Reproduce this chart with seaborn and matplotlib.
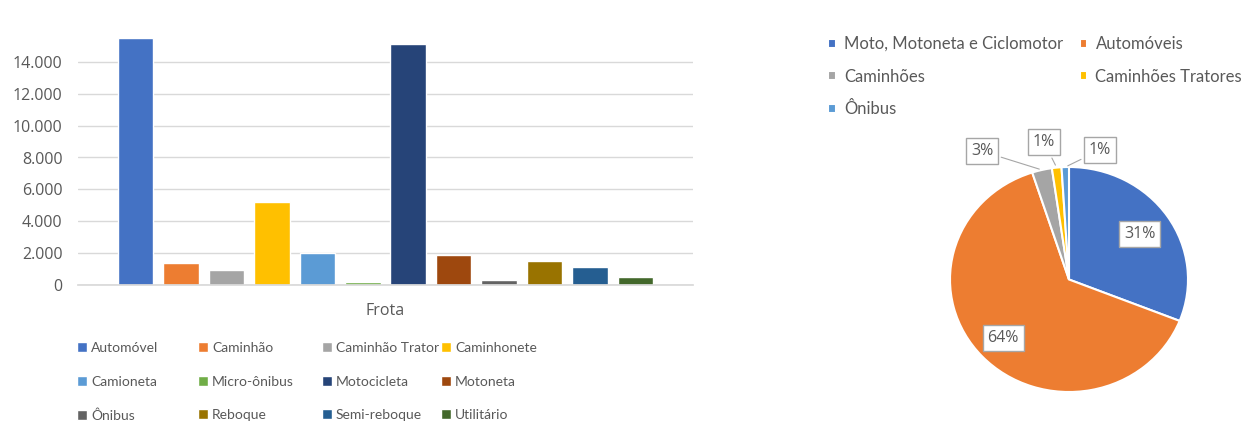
import numpy as np
import pandas as pd
import matplotlib
matplotlib.use("Agg")
import matplotlib.pyplot as plt
import seaborn as sns

# ---- data ----
bar_group = "Frota"
bar_types = ["Automóvel", "Caminhão", "Caminhão Trator", "Caminhonete",
             "Camioneta", "Micro-ônibus", "Motocicleta", "Motoneta",
             "Ônibus", "Reboque", "Semi-reboque", "Utilitário"]
bar_values = [15500, 1400, 940, 5200, 2000, 200, 15150, 1880, 290, 1520, 1150, 480]
bar_colors = ["#4472C4", "#ED7D31", "#A5A5A5", "#FFC000", "#5B9BD5", "#70AD47",
              "#264478", "#9E480E", "#636363", "#997300", "#255E91", "#43682B"]
y_ticks = [0, 2000, 4000, 6000, 8000, 10000, 12000, 14000]

pie_labels = ["Moto, Motoneta e Ciclomotor", "Automóveis", "Caminhões",
              "Caminhões Tratores", "Ônibus"]
pie_values = [31, 64, 2.7, 1.3, 1.0]
pie_texts = ["31%", "64%", "3%", "1%", "1%"]
pie_colors = ["#4472C4", "#ED7D31", "#A5A5A5", "#FFC000", "#5B9BD5"]

sns.set_theme(style="white")
plt.rcParams['font.family'] = ['Open Sans', 'DejaVu Sans']
TXT = "#595959"
LEG_FONT = ['Lato', 'DejaVu Sans']

fig = plt.figure(figsize=(12.44, 4.21), dpi=100)
W, H = 1244, 421

# ---- bar chart ----
ax = fig.add_axes([78 / W, 1 - 285 / H, (693 - 78) / W, (285 - 30) / H])
df = pd.DataFrame({"grupo": [bar_group] * len(bar_types), "tipo": bar_types, "valor": bar_values})
sns.barplot(data=df, x="grupo", y="valor", hue="tipo", hue_order=bar_types,
            palette=bar_colors, width=0.886, gap=0.22, ax=ax, saturation=1)
ax.set_xlim(-0.5, 0.5)
ax.set_ylim(0, 16000)
ax.set_yticks(y_ticks)
ax.set_yticklabels([f"{v:,}".replace(",", ".") for v in y_ticks], color=TXT, fontsize=11.5)
ax.tick_params(axis="x", colors=TXT, labelsize=11.5, length=0, pad=13)
ax.tick_params(axis="y", length=0, pad=11)
ax.set_xlabel("")
ax.set_ylabel("")
ax.grid(axis="y", color="#D9D9D9", linewidth=1)
ax.set_axisbelow(True)
for s in ["top", "right", "left"]:
    ax.spines[s].set_visible(False)
ax.spines["bottom"].set_color("#D9D9D9")
handles, labels = ax.get_legend_handles_labels()
if ax.get_legend() is not None:
    ax.get_legend().remove()

# legend: 3 rows x 4 equal-width columns
col_x = [77, 198, 322, 441]
for c in range(4):
    idx = [c, c + 4, c + 8]
    fig.legend([handles[i] for i in idx], [labels[i] for i in idx], ncol=1,
               loc="upper left", bbox_to_anchor=(col_x[c] / W, 1 - 342 / H), frameon=False,
               prop={"family": LEG_FONT, "size": 10}, labelcolor=TXT,
               handlelength=0.7, handleheight=0.7,
               handletextpad=0.3, labelspacing=1.55,
               borderpad=0, borderaxespad=0)

# ---- pie chart ----
px0, px1, py0, py1 = 950, 1188, 167, 392
pax = fig.add_axes([px0 / W, 1 - py1 / H, (px1 - px0) / W, (py1 - py0) / H])
wedges, _ = pax.pie(pie_values, colors=pie_colors, startangle=90, counterclock=False,
                    wedgeprops=dict(edgecolor="white", linewidth=1.5), radius=1)
pax.set_xlim(-1.0, 1.0)
pax.set_ylim(-1.0, 1.0)
pax.set_aspect("auto")
bbox = dict(boxstyle="square,pad=0.3", fc="white", ec="#A6A6A6", lw=1)
inside_r = [0.72, 0.76]
outside_pos = [None, None, (-0.73, 1.14), (-0.21, 1.22), (0.26, 1.15)]
for i, w in enumerate(wedges):
    ang = np.deg2rad((w.theta1 + w.theta2) / 2)
    if i < 2:
        rr = inside_r[i]
        pax.text(rr * np.cos(ang), rr * np.sin(ang), pie_texts[i], ha="center", va="center",
                 fontsize=11.5, color=TXT, bbox=bbox)
    else:
        pax.annotate(pie_texts[i], xy=(np.cos(ang), np.sin(ang)), xytext=outside_pos[i],
                     ha="center", va="center", fontsize=11.5, color=TXT, bbox=bbox,
                     arrowprops=dict(arrowstyle="-", color="#A6A6A6", lw=0.8),
                     annotation_clip=False)

porder = [0, 2, 4, 1, 3]
fig.legend([wedges[i] for i in porder], [pie_labels[i] for i in porder], ncol=2,
           loc="upper left", bbox_to_anchor=(828 / W, 1 - 36 / H), frameon=False,
           prop={"family": LEG_FONT, "size": 12}, labelcolor=TXT,
           handlelength=0.45, handleheight=0.45,
           handletextpad=0.5, columnspacing=1.0, labelspacing=1.0,
           borderpad=0, borderaxespad=0)

fig.savefig("out.png", dpi=100)
